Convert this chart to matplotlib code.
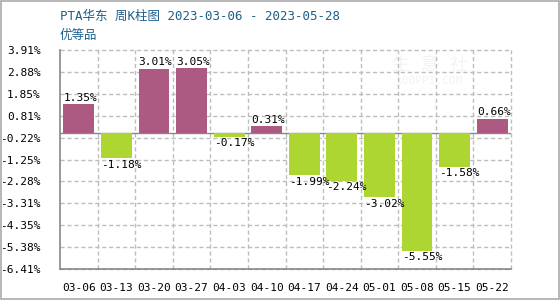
import numpy as np
import matplotlib
matplotlib.use("Agg")
import matplotlib.pyplot as plt
from matplotlib.patches import Rectangle

weeks = ["03-06", "03-13", "03-20", "03-27", "04-03", "04-10",
         "04-17", "04-24", "05-01", "05-08", "05-15", "05-22"]
changes = [1.35, -1.18, 3.01, 3.05, -0.17, 0.31,
           -1.99, -2.24, -3.02, -5.55, -1.58, 0.66]
yticks = [-6.41, -5.38, -4.35, -3.31, -2.28, -1.25, -0.22, 0.81, 1.85, 2.88, 3.91]

up_color = "#ad5a82"
down_color = "#add633"
mono = ["DejaVu Sans Mono", "Noto Sans CJK SC"]

fig = plt.figure(figsize=(5.6, 3.0), dpi=100)
ax = fig.add_axes([60 / 560, 31 / 300, 451 / 560, 219 / 300])

x = np.arange(len(weeks))
colors = [up_color if v >= 0 else down_color for v in changes]
w = 0.82
ax.bar(x, changes, width=w, color=colors, zorder=3)

for xi, v in zip(x, changes):
    if v >= 0:
        ax.text(xi - w / 2, v + 0.08, "%.2f%%" % v, ha="left", va="bottom",
                fontsize=8, family=mono, zorder=4)
    else:
        ax.text(xi - w / 2, v - 0.08, "%.2f%%" % v, ha="left", va="top",
                fontsize=8, family=mono, zorder=4)

ax.set_xlim(-0.5, len(weeks) - 0.5)
ax.set_ylim(yticks[0], yticks[-1])
ax.set_yticks(yticks)
ax.set_yticklabels(["%.2f%%" % t for t in yticks], family=mono, fontsize=8)
ax.set_xticks(x)
ax.set_xticklabels(weeks, family=mono, fontsize=8)
ax.tick_params(length=0, pad=10, axis="x")
ax.tick_params(length=0, pad=14, axis="y")

# dashed grid: horizontal at ticks, vertical at category boundaries
for t in yticks:
    ax.axhline(t, color="#bdbdbd", linestyle=(0, (3, 2)), linewidth=1.0,
               zorder=1, clip_on=False)
for b in np.arange(0.5, len(weeks), 1.0):
    ax.axvline(b, color="#bdbdbd", linestyle=(0, (3, 2)), linewidth=1.0,
               zorder=1, clip_on=False)
ax.axhline(0, color="#888888", linewidth=1.0, zorder=2)

for side in ["top", "right"]:
    ax.spines[side].set_visible(False)
for side in ["left", "bottom"]:
    ax.spines[side].set_color("#888888")
    ax.spines[side].set_linewidth(1.2)
    ax.spines[side].set_zorder(5)

# faint watermark
ax.text(0.82, 0.93, "生 意 社", transform=ax.transAxes, ha="center", va="center",
        fontsize=13, color="#f7f2f2", family=mono, zorder=0)
ax.text(0.82, 0.86, "100PPI.COM", transform=ax.transAxes, ha="center", va="center",
        fontsize=8, color="#f7f2f2", family=mono, zorder=0)

fig.text(60 / 560, 1 - 16 / 300, "PTA华东 周K柱图 2023-03-06 - 2023-05-28",
         ha="left", va="center", fontsize=9, color="#1d5f8a", family=mono)
fig.text(60 / 560, 1 - 35 / 300, "优等品", ha="left", va="center",
         fontsize=9, color="#1d5f8a", family=mono)

fig.patches.append(Rectangle((0.0015, 0.003), 0.997, 0.994, transform=fig.transFigure,
                             fill=False, edgecolor="#aaaaaa", linewidth=1.2))

fig.savefig("out.png", dpi=100)
